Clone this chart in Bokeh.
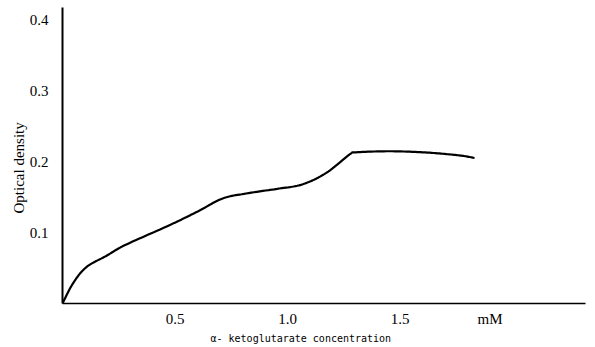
from bokeh.plotting import figure
from bokeh.models import Range1d, FixedTicker, Title
from bokeh.embed import file_html
from bokeh.resources import INLINE

# Data
conc = [0.0, 0.046, 0.105, 0.194, 0.276, 0.431, 0.52, 0.609, 0.712, 0.816, 0.964,
        1.068, 1.172, 1.276, 1.305, 1.453, 1.601, 1.705, 1.779, 1.831]
od = [0.0, 0.028, 0.051, 0.067, 0.082, 0.104, 0.117, 0.131, 0.148, 0.155, 0.162,
      0.168, 0.184, 0.210, 0.213, 0.2145, 0.213, 0.2105, 0.208, 0.205]
x_ticks = [0.5, 1.0, 1.5, 1.9]
x_tick_labels = {0.5: "0.5", 1.0: "1.0", 1.5: "1.5", 1.9: "mM"}
y_ticks = [0.1, 0.2, 0.3, 0.4]
y_title = "Optical density"
x_title = "α- ketoglutarate concentration"

p = figure(width=595, height=347, output_backend="svg", toolbar_location=None,
           x_range=Range1d(0, 2.324), y_range=Range1d(0, 0.417),
           min_border_left=62, min_border_right=10, min_border_top=7, min_border_bottom=44)
p.outline_line_color = None
p.grid.visible = False
p.background_fill_color = "white"
p.border_fill_color = "white"

# smooth curve through the points (Catmull-Rom in data space)
def catmull(xs, ys, n=12):
    px, py = [], []
    N = len(xs)
    for i in range(N - 1):
        x0, y0 = (xs[i - 1], ys[i - 1]) if i > 0 else (xs[i], ys[i])
        x1, y1 = xs[i], ys[i]
        x2, y2 = xs[i + 1], ys[i + 1]
        x3, y3 = (xs[i + 2], ys[i + 2]) if i + 2 < N else (xs[i + 1], ys[i + 1])
        for k in range(n):
            t = k / n
            t2, t3 = t * t, t * t * t
            px.append(0.5 * (2 * x1 + (-x0 + x2) * t + (2 * x0 - 5 * x1 + 4 * x2 - x3) * t2 + (-x0 + 3 * x1 - 3 * x2 + x3) * t3))
            py.append(0.5 * (2 * y1 + (-y0 + y2) * t + (2 * y0 - 5 * y1 + 4 * y2 - y3) * t2 + (-y0 + 3 * y1 - 3 * y2 + y3) * t3))
    px.append(xs[-1]); py.append(ys[-1])
    return px, py

cx, cy = catmull(conc, od)
p.line(cx, cy, line_color="black", line_width=2.2)

xa = p.xaxis[0]
xa.ticker = FixedTicker(ticks=x_ticks)
xa.major_label_overrides = x_tick_labels
xa.major_tick_line_color = None
xa.minor_tick_line_color = None
xa.axis_line_width = 1.6
xa.axis_line_color = "black"
xa.major_label_text_font = "Liberation Serif"
xa.major_label_text_font_size = "15px"
xa.major_label_text_color = "black"
xa.major_label_standoff = 1

ya = p.yaxis[0]
ya.ticker = FixedTicker(ticks=y_ticks)
ya.major_tick_line_color = None
ya.minor_tick_line_color = None
ya.axis_line_width = 2
ya.axis_line_color = "black"
ya.major_label_text_font = "Liberation Serif"
ya.major_label_text_font_size = "15px"
ya.major_label_text_color = "black"
ya.major_label_standoff = 8

p.add_layout(Title(text=x_title, align="left", offset=148, standoff=2,
                   text_font="DejaVu Sans Mono", text_font_size="10px",
                   text_font_style="normal", text_color="black"), "below")
p.add_layout(Title(text=y_title, align="left", offset=90, standoff=0,
                   text_font="Liberation Serif", text_font_size="15px",
                   text_font_style="normal", text_color="black"), "left")

open("out.html", "w").write(file_html(p, INLINE))
